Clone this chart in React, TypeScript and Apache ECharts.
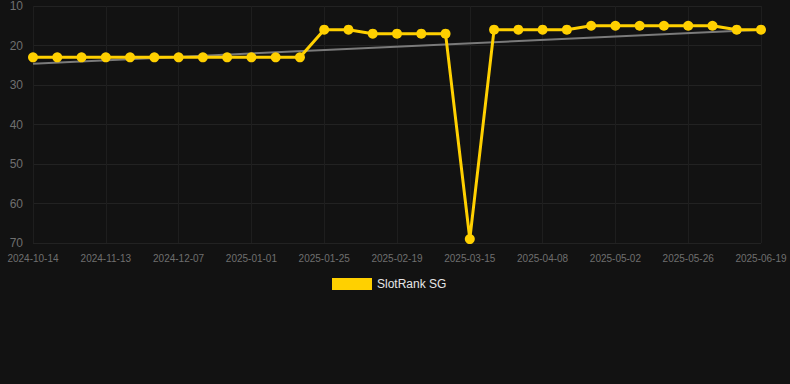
import React, { useEffect, useRef } from "react";
import * as echarts from "echarts";

const categories: string[] = [
  "2024-10-14", "2024-10-24", "2024-11-03", "2024-11-13", "2024-11-21", "2024-11-29",
  "2024-12-07", "2024-12-15", "2024-12-23", "2025-01-01", "2025-01-09", "2025-01-17",
  "2025-01-25", "2025-02-02", "2025-02-10", "2025-02-19", "2025-02-27", "2025-03-07",
  "2025-03-15", "2025-03-23", "2025-03-31", "2025-04-08", "2025-04-16", "2025-04-24",
  "2025-05-02", "2025-05-10", "2025-05-18", "2025-05-26", "2025-06-03", "2025-06-11",
  "2025-06-19",
];

const rankValues: number[] = [
  23, 23, 23, 23, 23, 23, 23, 23, 23, 23, 23, 23,
  16, 16, 17, 17, 17, 17, 69, 16, 16, 16, 16, 15,
  15, 15, 15, 15, 15, 16, 16,
];

const trendStart = 24.6;
const trendEnd = 16.0;

const yTicks = { min: 10, max: 70, interval: 10 };
const seriesName = "SlotRank SG";

export default function App() {
  const ref = useRef<HTMLDivElement>(null);

  useEffect(() => {
    if (!ref.current) return;
    const chart = echarts.init(ref.current, undefined, { renderer: "svg" });
    const trendData = categories.map((c, i) =>
      i === 0 ? trendStart : i === categories.length - 1 ? trendEnd : null
    );
    chart.setOption({
      animation: false,
      backgroundColor: "#121212",
      grid: { left: 33, right: 29, top: 6, bottom: 141, containLabel: false },
      legend: {
        data: [{ name: seriesName, icon: "rect" }],
        top: 273,
        left: 327,
        itemWidth: 40,
        itemHeight: 12,
        itemGap: 6,
        textStyle: { color: "#e6e6e6", fontSize: 12, fontFamily: "Arial, Liberation Sans, sans-serif" },
      },
      xAxis: {
        type: "category",
        data: categories,
        boundaryGap: false,
        axisLine: { show: false },
        axisTick: { show: false },
        axisLabel: {
          interval: 2,
          color: "#6f6f6f",
          fontSize: 10,
          margin: 10,
          fontFamily: "Arial, Liberation Sans, sans-serif",
        },
        splitLine: { show: true, interval: 2, lineStyle: { color: "#1e1e1e", width: 1 } },
      },
      yAxis: {
        type: "value",
        inverse: true,
        min: yTicks.min,
        max: yTicks.max,
        interval: yTicks.interval,
        axisLine: { show: false },
        axisTick: { show: false },
        axisLabel: {
          color: "#6f6f6f",
          fontSize: 12,
          margin: 10,
          fontFamily: "Arial, Liberation Sans, sans-serif",
        },
        splitLine: { show: true, lineStyle: { color: "#222222", width: 1 } },
      },
      series: [
        {
          name: "trend",
          type: "line",
          data: trendData,
          connectNulls: true,
          symbol: "none",
          lineStyle: { color: "#7a7a7a", width: 2 },
          silent: true,
          z: 1,
        },
        {
          name: seriesName,
          type: "line",
          data: rankValues,
          symbol: "circle",
          symbolSize: 10,
          itemStyle: { color: "#FFD000" },
          lineStyle: { color: "#FFD000", width: 3 },
          z: 2,
        },
      ],
    });
    return () => chart.dispose();
  }, []);

  return (
    <div
      ref={ref}
      style={{ position: "fixed", left: 0, top: 0, width: 790, height: 384 }}
    />
  );
}
